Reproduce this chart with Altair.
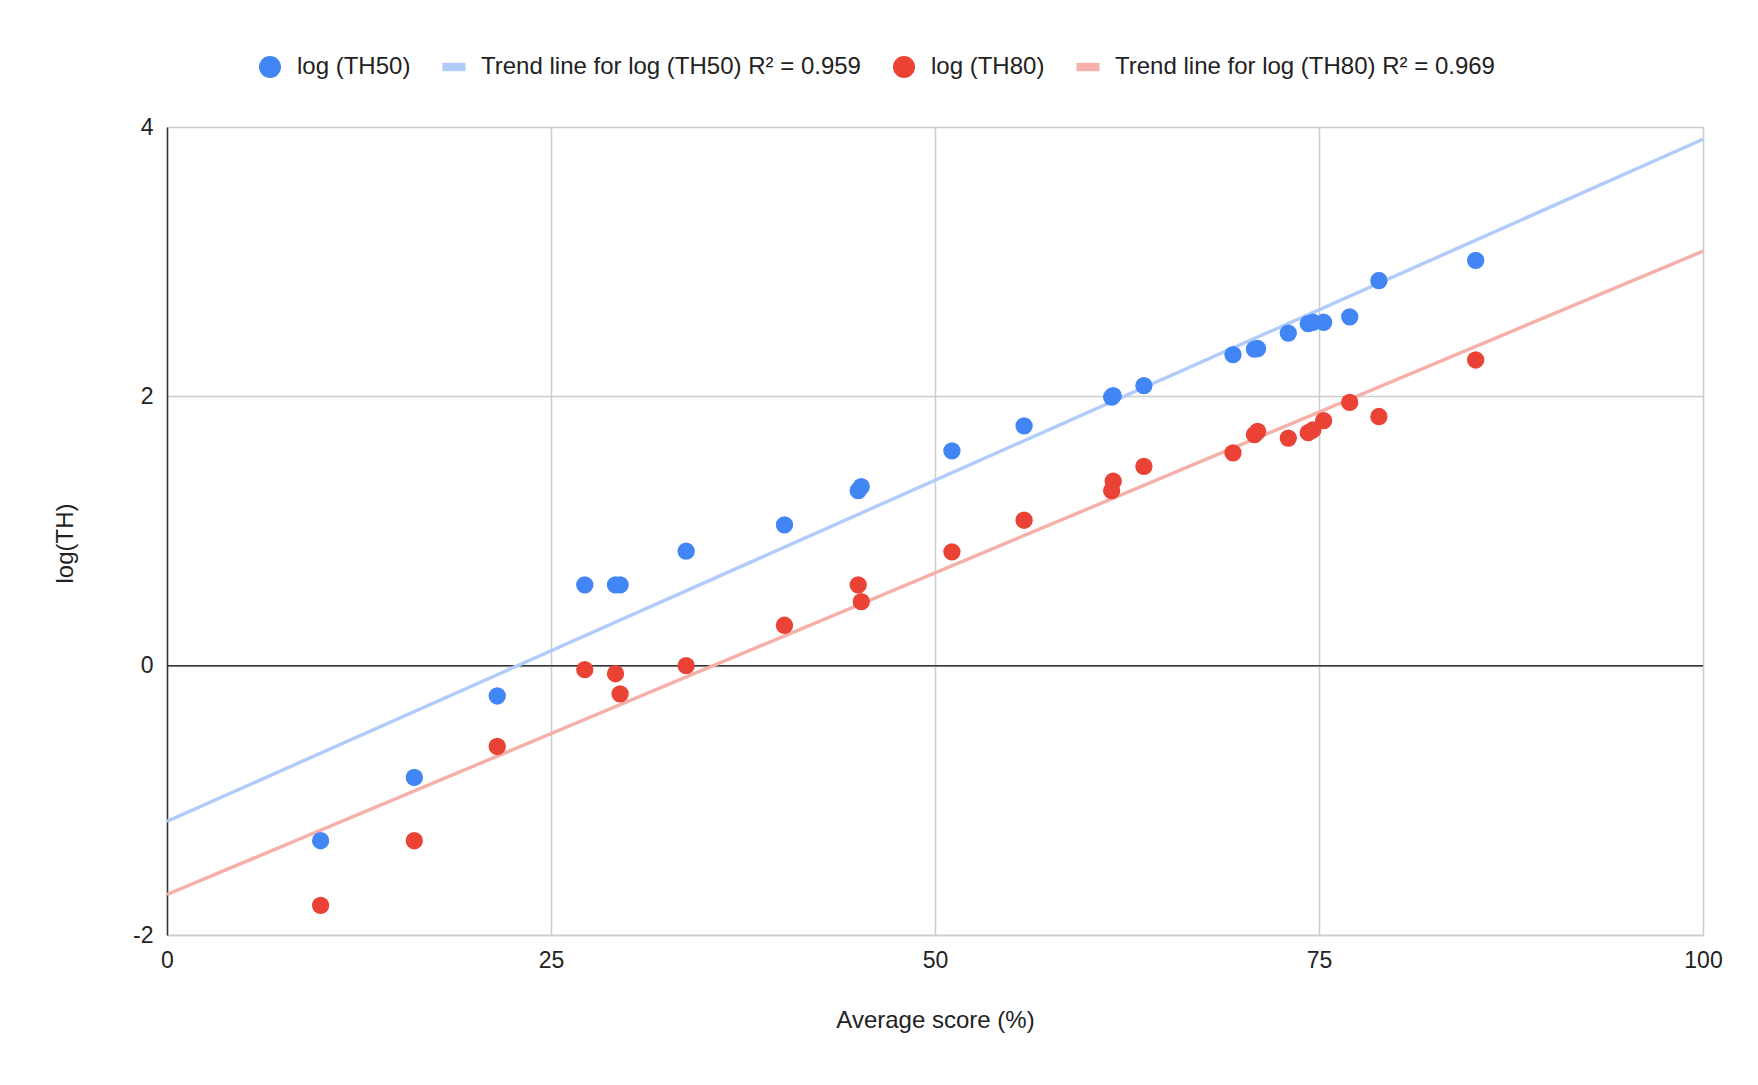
import altair as alt
import pandas as pd

# ---- data ----
score = [10.0, 16.1, 21.5, 27.2, 29.2, 29.5, 33.8, 40.2, 45.0, 45.2, 51.1, 55.8,
         61.5, 61.6, 63.6, 69.4, 70.8, 71.0, 73.0, 74.3, 74.6, 75.3, 77.0, 78.9, 85.2]
log_th50 = [-1.30, -0.83, -0.225, 0.60, 0.60, 0.60, 0.85, 1.045, 1.30, 1.33, 1.595, 1.78,
            1.995, 2.005, 2.08, 2.31, 2.35, 2.355, 2.47, 2.54, 2.55, 2.55, 2.59, 2.86, 3.01]
log_th80 = [-1.78, -1.30, -0.60, -0.03, -0.06, -0.21, 0.0, 0.30, 0.60, 0.475, 0.845, 1.08,
            1.30, 1.37, 1.48, 1.58, 1.715, 1.74, 1.69, 1.73, 1.75, 1.82, 1.955, 1.85, 2.27]

series_names = ["log (TH50)", "Trend line for log (TH50) R² = 0.959",
                "log (TH80)", "Trend line for log (TH80) R² = 0.969"]
series_colors = ["#4285F4", "#b1ccfa", "#EA4335", "#f5b0aa"]
x_ticks = [0, 25, 50, 75, 100]
y_ticks = [-2, 0, 2, 4]

rows = []
for s, a, b in zip(score, log_th50, log_th80):
    rows.append({"score": s, "val": a, "group": "TH50", "series": series_names[0]})
    rows.append({"score": s, "val": b, "group": "TH80", "series": series_names[2]})
df = pd.DataFrame(rows)

FONT = "Liberation Sans"
rect_path = "M-1.05,-0.38L1.05,-0.38L1.05,0.38L-1.05,0.38Z"

x_enc = alt.X("score:Q",
              scale=alt.Scale(domain=[0, 100], nice=False, zero=False),
              axis=alt.Axis(values=x_ticks, title="Average score (%)", ticks=False,
                            grid=True, gridColor="#cccccc", gridWidth=1.5,
                            domain=True, domainColor="#cccccc", domainWidth=1.5,
                            labelFlush=False, labelExpr="'' + datum.value",
                            labelPadding=14, titleY=92, titleBaseline="alphabetic"))
y_enc = alt.Y("val:Q",
              scale=alt.Scale(domain=[-2, 4], nice=False, zero=False),
              axis=alt.Axis(values=y_ticks, title="log(TH)", ticks=False,
                            grid=True, gridColor="#cccccc", gridWidth=1.5,
                            domain=True, domainColor="#333333", domainWidth=1.5,
                            labelFlush=False, labelExpr="'' + datum.value",
                            labelPadding=14, titleX=-102, titleY=416,
                            titleBaseline="middle"))
color_enc = alt.Color("series:N", title=None,
                      scale=alt.Scale(domain=series_names, range=series_colors))
shape_enc = alt.Shape("series:N", title=None,
                      scale=alt.Scale(domain=series_names,
                                      range=["circle", rect_path, "circle", rect_path]))

zero_rule = alt.Chart(pd.DataFrame({"z": [0]})).mark_rule(
    color="#333333", strokeWidth=1.5).encode(y=alt.datum(0))

trend_expr = ("datum.group == 'TH50' ? '" + series_names[1] + "' : '" + series_names[3] + "'")
trend = alt.Chart(df).transform_regression(
    "score", "val", groupby=["group"], extent=[0, 100]
).transform_calculate(series=trend_expr).mark_line(strokeWidth=3.5).encode(
    x=x_enc, y=y_enc, color=color_enc)

points = alt.Chart(df).mark_point(filled=True, size=300, opacity=1, strokeWidth=0).encode(
    x=x_enc, y=y_enc, color=color_enc, shape=shape_enc)

chart = alt.layer(zero_rule, trend, points).properties(
    width=1536, height=808,
    autosize=alt.AutoSizeParams(type="none"),
    padding={"left": 159, "top": 119, "right": 40, "bottom": 140},
).configure_view(stroke=None).configure_axis(
    labelFont=FONT, labelFontSize=23, labelColor="#222222",
    titleFont=FONT, titleFontSize=24, titleColor="#222222", titleFontWeight="normal",
).configure_legend(
    orient="none", legendX=91, legendY=-72, direction="horizontal",
    labelFont=FONT, labelFontSize=24, labelColor="#222222", labelLimit=0,
    symbolSize=484, symbolStrokeWidth=0, labelOffset=15, columnPadding=31,
    padding=0, symbolOpacity=1,
)

chart.save("out.html", embed_options={"renderer": "svg", "actions": False})
